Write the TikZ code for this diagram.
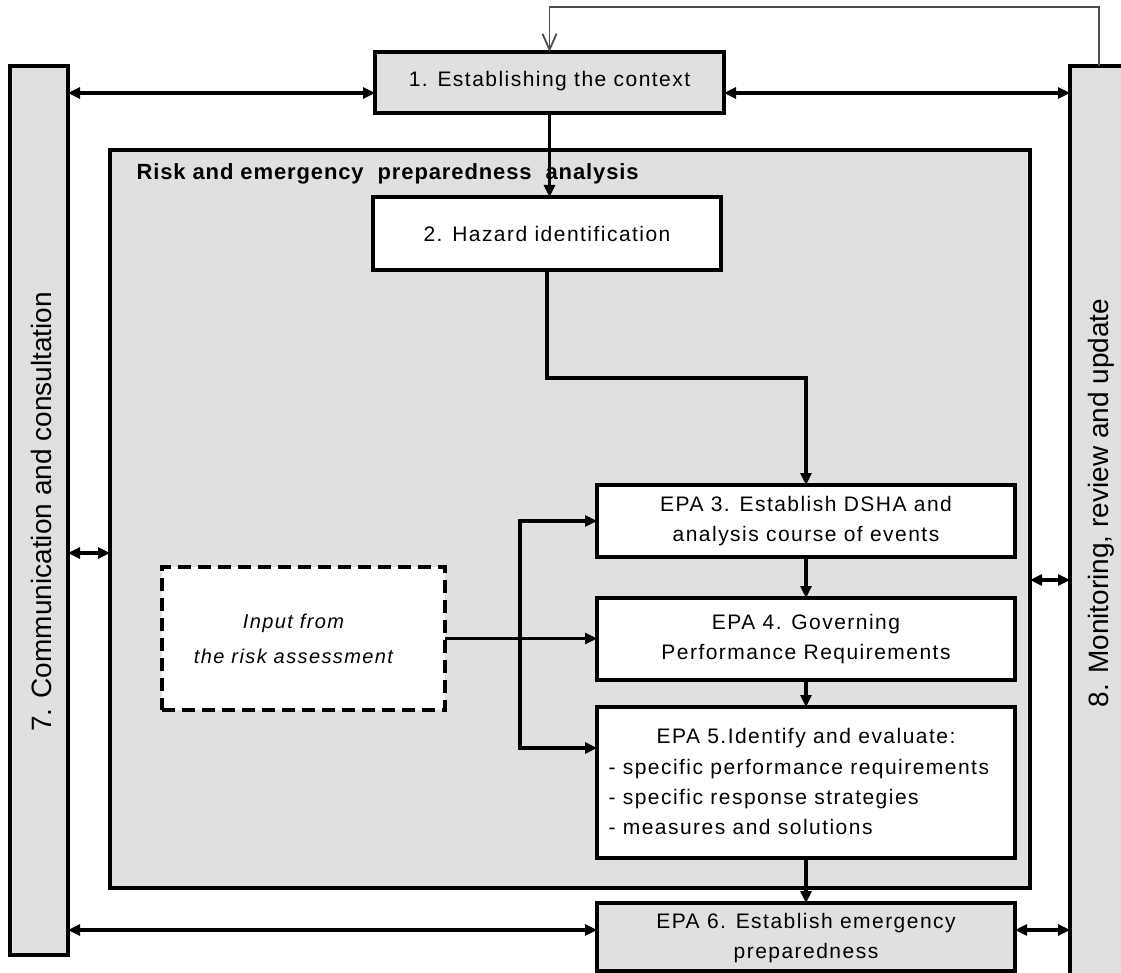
\documentclass[tikz,border=0pt]{standalone}
\usepackage{fontspec}
\setmainfont{Liberation Sans}
\usetikzlibrary{arrows.meta}
\definecolor{boxgrey}{HTML}{E0E0E0}
\newfontfamily\spaced[LetterSpace=7]{Liberation Sans}
\newfontfamily\boldspaced[LetterSpace=4]{Liberation Sans Bold}
\tikzset{
  frame/.style={draw=black, line width=4.5pt, rectangle, inner sep=0pt, outer sep=0pt, anchor=north west},
  greybox/.style={frame, fill=boxgrey},
  whitebox/.style={frame, fill=white},
  boxtext/.style={font=\spaced\fontsize{21}{30}\selectfont, align=center},
  arr/.style={line width=3.5pt, -{Triangle[length=12pt,width=11pt]}},
  dbl/.style={line width=3.5pt, {Triangle[length=12pt,width=11pt]}-{Triangle[length=12pt,width=11pt]}},
  sidetext/.style={font=\fontsize{28}{30}\selectfont, rotate=90}
}
\begin{document}
\begin{tikzpicture}[x=1pt,y=-1pt]
\useasboundingbox (0,0) rectangle (1121,973);
\clip (0,0) rectangle (1121,973);
% side boxes
\node[greybox, minimum width=58pt, minimum height=889pt] (left) at (10,66) {};
\node[greybox, minimum width=80pt, minimum height=930pt] (right) at (1070,66) {};
\node[sidetext] (lefttext) at (41,512) {7. Communication and consultation};
\node[sidetext] (righttext) at (1101,503) {8. Monitoring, review and update};
% top box
\node[greybox, minimum width=349pt, minimum height=61pt] (box1) at (375,52) {};
\node[boxtext] (box1t) at ([yshift=1pt]box1.center) {1. Establishing the context};
% outer analysis box
\node[greybox, minimum width=920pt, minimum height=738pt] (outer) at (110,150) {};
\node[anchor=west, font=\boldspaced\fontsize{22}{24}\selectfont] (outert) at (133,174) {Risk and emergency\ \ preparedness\ \ analysis};
% inner boxes
\node[whitebox, minimum width=348pt, minimum height=73pt] (box2) at (373,197) {};
\node[boxtext] (box2t) at (box2.center) {2. Hazard identification};
\node[whitebox, minimum width=418pt, minimum height=72pt] (epa3) at (597,485) {};
\node[boxtext] (epa3t) at (epa3.center) {EPA 3. Establish DSHA and\\analysis course of events};
\node[whitebox, minimum width=418pt, minimum height=82pt] (epa4) at (597,598) {};
\node[boxtext] (epa4t) at (epa4.center) {EPA 4. Governing\\Performance Requirements};
\node[whitebox, minimum width=418pt, minimum height=151pt] (epa5) at (597,707) {};
\node[boxtext] (epa5a) at (806,738) {EPA 5.Identify and evaluate:};
\node[boxtext, align=left, anchor=north west] (epa5b) at (605,756) {- specific performance requirements\\- specific response strategies\\- measures and solutions};
\node[greybox, minimum width=418pt, minimum height=68pt] (epa6) at (597,903) {};
\node[boxtext] (epa6t) at ([yshift=-1pt]epa6.center) {EPA 6. Establish emergency\\preparedness};
\node[frame, fill=white, dashed, dash pattern=on 13pt off 7pt, minimum width=283pt, minimum height=143pt] (input) at (162,567) {};
\node[boxtext, font=\spaced\itshape\fontsize{20}{35}\selectfont] (inputt) at ([xshift=-10pt]input.center) {Input from\\the risk assessment};
% feedback loop
\coordinate (fb) at (1099,7);
\draw[line width=1.8pt, draw=black!70, -{Straight Barb[length=16pt,width=14pt]}] (fb |- right.north) -- (fb) -| (box1.north);
% connectors
\draw[dbl] (left.east |- 0,93) -- (box1.west |- 0,93);
\draw[dbl] (box1.east |- 0,93) -- (right.west |- 0,93);
\draw[arr] (box1.south) -- (box1.south |- box2.north);
\coordinate (bend) at (548,378);
\draw[arr] (box2.south) -- (box2.south |- bend) -| (epa3.north);
\draw[arr] (epa3.south) -- (epa4.north);
\draw[arr] (epa4.south) -- (epa5.north);
\draw[arr] (epa5.south) -- (epa6.north);
\coordinate (junc) at (input.east -| 520,0);
\draw[arr] (input.east) -- (junc) |- (epa3.west);
\draw[arr] (junc) -- (epa4.west |- junc);
\draw[arr] (junc) |- (epa5.west |- 0,748);
\draw[dbl] (left.east |- 0,553) -- (outer.west |- 0,553);
\draw[dbl] (outer.east |- 0,580) -- (right.west |- 0,580);
\draw[dbl] (left.east |- 0,930) -- (epa6.west |- 0,930);
\draw[dbl] (epa6.east |- 0,930) -- (right.west |- 0,930);
\end{tikzpicture}
\end{document}
